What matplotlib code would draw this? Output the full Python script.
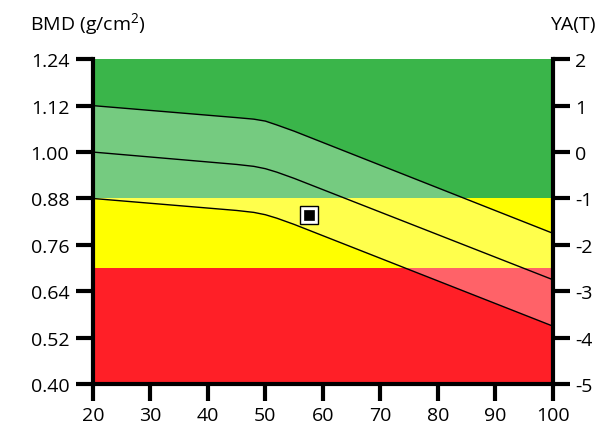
import numpy as np
import matplotlib.pyplot as plt
from matplotlib.patches import Rectangle

plt.rcParams['font.family'] = ['Open Sans', 'DejaVu Sans']
plt.rcParams['mathtext.default'] = 'regular'
plt.rcParams['axes.unicode_minus'] = False

# reference curves (age -> BMD)
ages = [20, 45, 48, 50, 52, 55, 100]
upper = [1.12, 1.089, 1.085, 1.080, 1.070, 1.054, 0.79]
middle = [1.00, 0.968, 0.963, 0.957, 0.948, 0.932, 0.67]
lower = [0.88, 0.849, 0.844, 0.838, 0.829, 0.813, 0.55]

# zones (BMD limits)
zone_bounds = [0.40, 0.70, 0.88, 1.24]
zone_colors = ['#ff1f27', '#ffff00', '#3ab54a']

# patient point
pt_age = 57.6
pt_bmd = 0.838

bmd_ticks = [0.40, 0.52, 0.64, 0.76, 0.88, 1.00, 1.12, 1.24]
age_ticks = [20, 30, 40, 50, 60, 70, 80, 90, 100]
t_ticks = [-5, -4, -3, -2, -1, 0, 1, 2]

fig = plt.figure(figsize=(5.99, 4.27), dpi=100)
ax = fig.add_axes([0.155, 0.098, 0.768, 0.761])

for i, c in enumerate(zone_colors):
    ax.add_patch(Rectangle((20, zone_bounds[i]), 80, zone_bounds[i + 1] - zone_bounds[i],
                           facecolor=c, edgecolor='none', zorder=0))

# lighter band between upper and lower curve
ax.fill_between(ages, lower, upper, facecolor='white', alpha=0.3, linewidth=0, zorder=1)
for curve in (upper, middle, lower):
    ax.plot(ages, curve, color='black', lw=1.0, zorder=2)

ax.plot(pt_age, pt_bmd, 's', ms=12.5, mfc='white', mec='black', mew=1.0, zorder=3)
ax.plot(pt_age, pt_bmd, 's', ms=7.5, mfc='black', mec='black', mew=0.5, zorder=4)

ax.set_xlim(20, 100)
ax.set_ylim(0.40, 1.24)
ax.set_xticks(age_ticks)
ax.set_yticks(bmd_ticks)
ax.set_yticklabels(['%.2f' % v for v in bmd_ticks])

ax.spines['top'].set_visible(False)
ax.spines['right'].set_visible(False)
for s in ('left', 'bottom'):
    ax.spines[s].set_linewidth(3)
ax.tick_params(axis='y', width=3, length=12, labelsize=14, pad=5)
ax.tick_params(axis='x', width=3, length=12, labelsize=14, pad=4)

ax2 = ax.twinx()
ax2.set_ylim(-5, 2)
ax2.set_yticks(t_ticks)
for s in ('top', 'left', 'bottom'):
    ax2.spines[s].set_visible(False)
ax2.spines['right'].set_linewidth(3)
ax2.tick_params(width=3, length=12, labelsize=14, pad=4)

fig.text(0.05, 0.93, 'BMD (g/cm$^2$)', fontsize=14, va='baseline', ha='left')
fig.text(0.995, 0.93, 'YA(T)', fontsize=14, va='baseline', ha='right')

fig.savefig('out.png', dpi=100)
